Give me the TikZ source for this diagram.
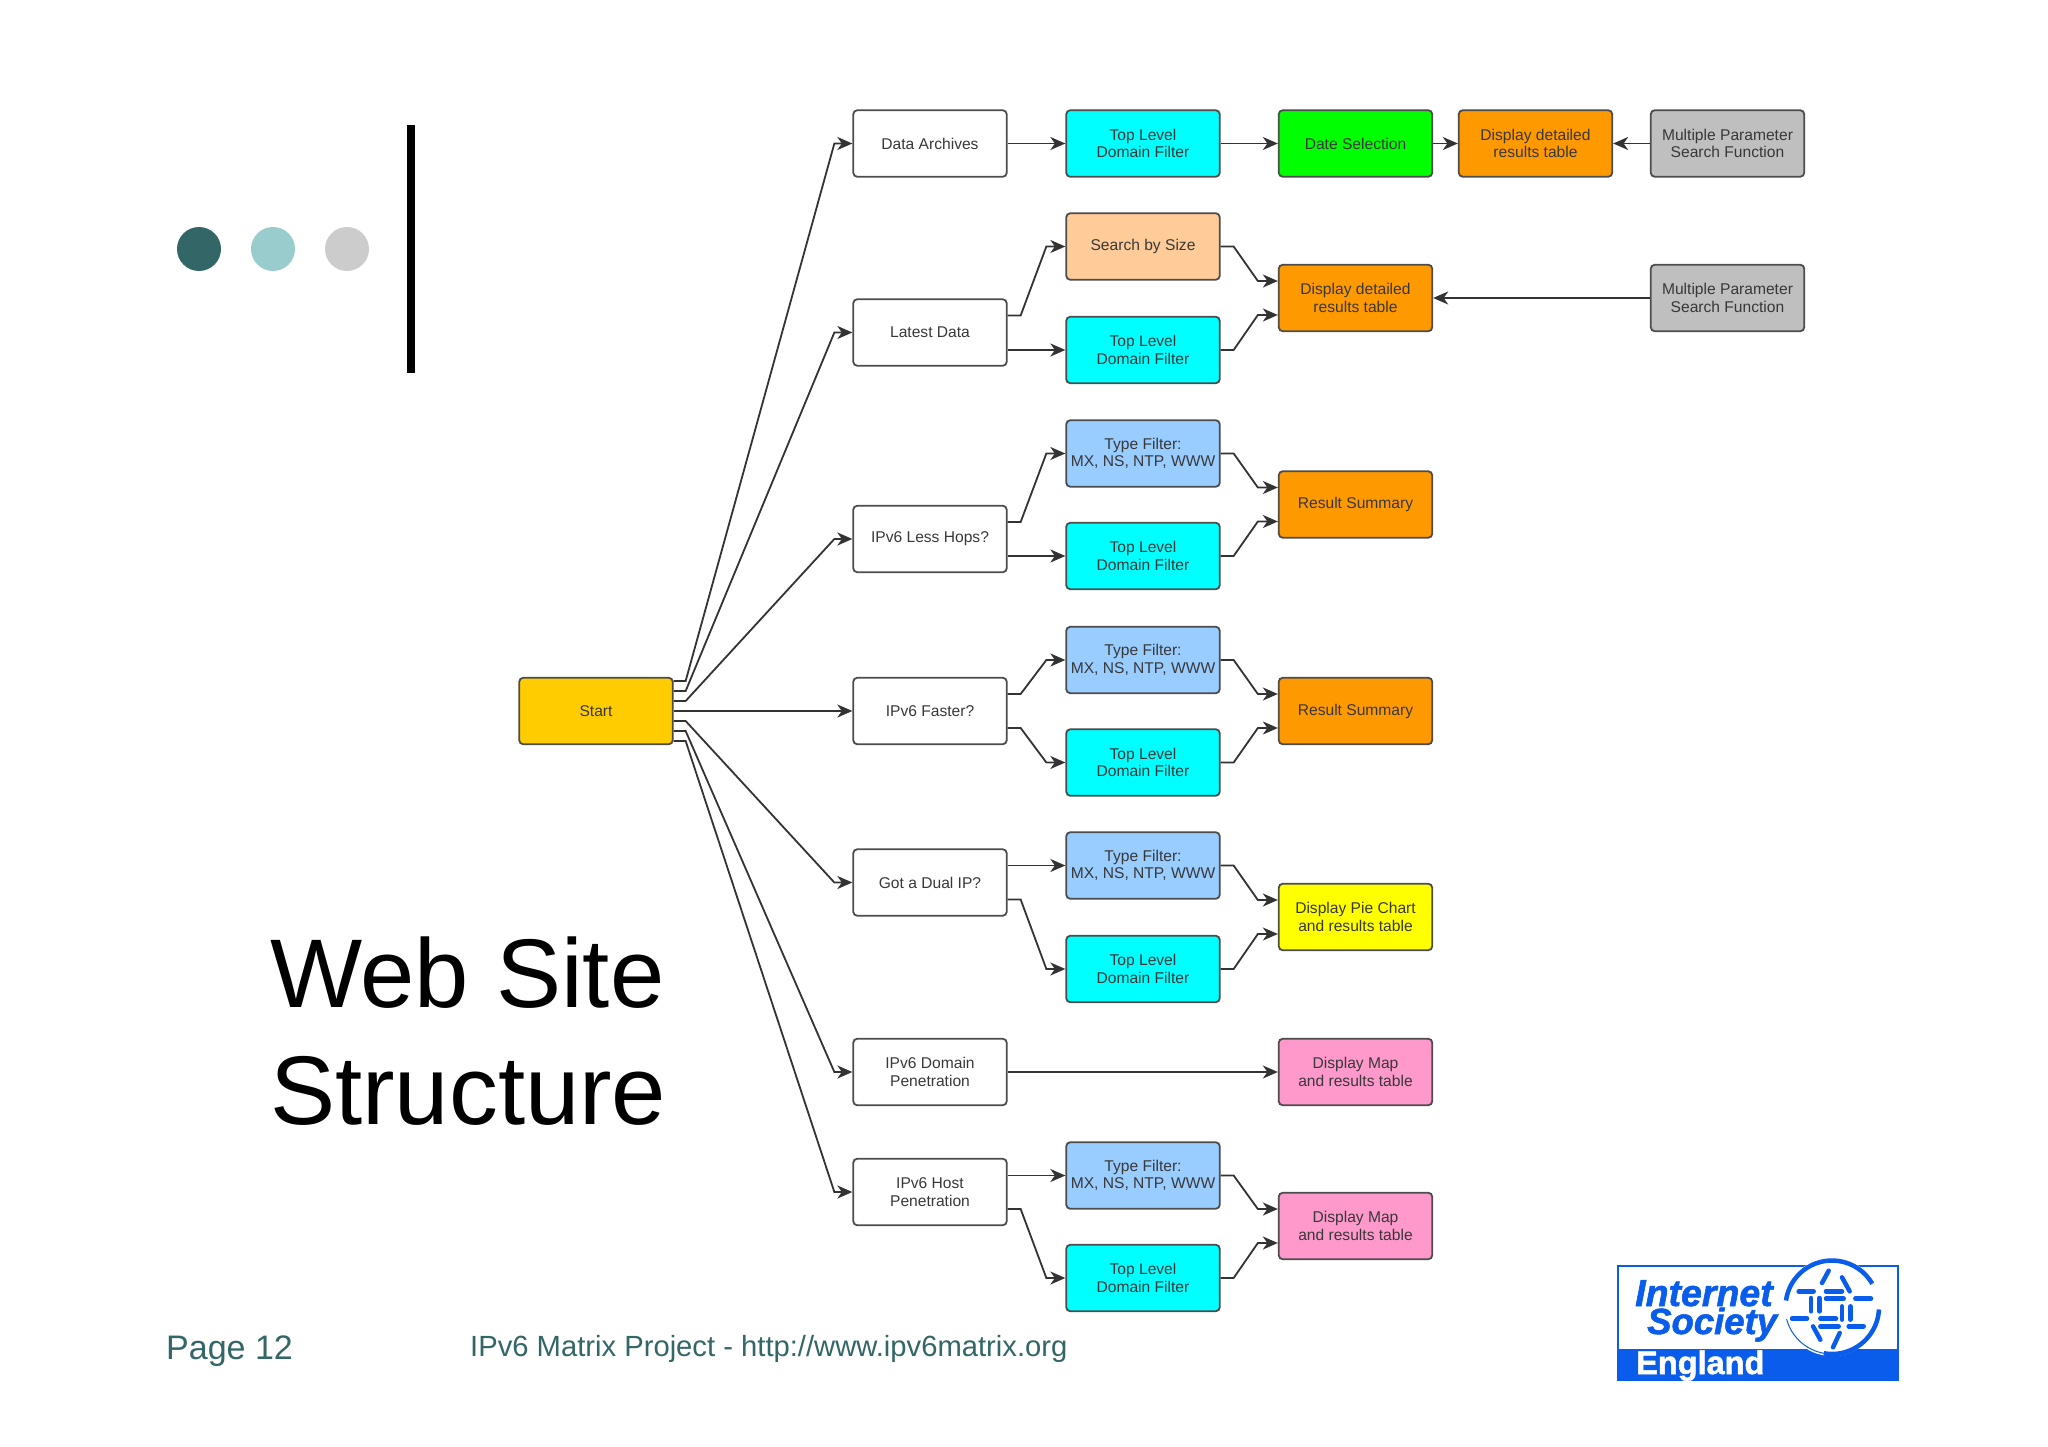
\documentclass[tikz,border=0pt]{standalone}
\usepackage{fontspec}
\setmainfont{Liberation Sans}
\newfontfamily\logofont[UprightFont=* Bold Italic, FakeBold=1.5]{Liberation Sans}
\newfontfamily\englandfont[UprightFont=* Bold, FakeBold=1.5]{Liberation Sans}
\usetikzlibrary{arrows.meta}

\definecolor{slideteal}{HTML}{336666}
\definecolor{slideaqua}{HTML}{99CCCC}
\definecolor{slidegrey}{HTML}{CCCCCC}
\definecolor{logoblue}{HTML}{0A5CEB}
\definecolor{startcol}{HTML}{FFCC00}
\definecolor{peachcol}{HTML}{FFCC99}
\definecolor{orangecol}{HTML}{FF9900}
\definecolor{greycol}{HTML}{BFBFBF}
\definecolor{pinkcol}{HTML}{FF99CC}
\definecolor{typecol}{HTML}{99CCFF}
\definecolor{tldcol}{HTML}{00FFFF}
\definecolor{datecol}{HTML}{00FF00}
\definecolor{piecol}{HTML}{FFFF00}

\tikzset{
  box/.style={draw=black!70, line width=1.8pt, rounded corners=4pt, inner sep=1pt,
    minimum width=153.5pt, minimum height=66.5pt, align=center, text=black!78,
    font=\fontsize{15.6}{17.6}\selectfont},
  link/.style={draw=black!80, line width=1.8pt,
    -{Stealth[length=15pt,width=13pt,inset=4.5pt]}},
  logodash/.style={logoblue, line width=4.5pt, line cap=round},
}

\begin{document}
\begin{tikzpicture}[x=1pt, y=-1pt]
  \useasboundingbox (0,0) rectangle (2048,1447);

  % Slide furniture
  \foreach \cx/\col in {199/slideteal, 273/slideaqua, 347/slidegrey}
    \fill[\col] (\cx,249) circle[radius=22pt];
  \fill[black] (407,125) rectangle (415,373);

  \node[anchor=base west, inner sep=0pt, font=\fontsize{97.6}{116}\selectfont] (Title1) at (270,1007) {Web Site};
  \node[anchor=base west, inner sep=0pt, font=\fontsize{97.6}{116}\selectfont] (Title2) at (270,1124) {Structure};
  \node[anchor=base west, inner sep=0pt, text=slideteal, font=\fontsize{34}{36}\selectfont] (PageNo) at (166,1359) {Page 12};
  \node[anchor=base west, inner sep=0pt, text=slideteal, font=\fontsize{29.2}{32}\selectfont] (Footer) at (470,1356) {IPv6 Matrix Project - http://www.ipv6matrix.org};

  % Start and first column
  \node[box, fill=startcol] (Start) at (596,711) {Start};
  \node[box] (Archive) at (930,143.5) {Data Archives};
  \node[box] (Latest) at (930,332.5) {Latest Data};
  \node[box] (LessHops) at (930,539) {IPv6 Less Hops?};
  \node[box] (Faster) at (930,711) {IPv6 Faster?};
  \node[box] (DualIP) at (930,882.5) {Got a Dual IP?};
  \node[box] (DomainPen) at (930,1072) {IPv6 Domain\\Penetration};
  \node[box] (HostPen) at (930,1192) {IPv6 Host\\Penetration};

  % Filters
  \node[box, fill=tldcol] (ArchiveTld) at (1143,143.5) {Top Level\\Domain Filter};
  \node[box, fill=peachcol] (SizeSearch) at (1143,246.5) {Search by Size};
  \node[box, fill=tldcol] (LatestTld) at (1143,350) {Top Level\\Domain Filter};
  \node[box, fill=typecol] (HopsType) at (1143,453.5) {Type Filter:\\MX, NS, NTP, WWW};
  \node[box, fill=tldcol] (HopsTld) at (1143,556) {Top Level\\Domain Filter};
  \node[box, fill=typecol] (FastType) at (1143,660) {Type Filter:\\MX, NS, NTP, WWW};
  \node[box, fill=tldcol] (FastTld) at (1143,762.5) {Top Level\\Domain Filter};
  \node[box, fill=typecol] (DualType) at (1143,865.5) {Type Filter:\\MX, NS, NTP, WWW};
  \node[box, fill=tldcol] (DualTld) at (1143,969) {Top Level\\Domain Filter};
  \node[box, fill=typecol] (HostType) at (1143,1175.5) {Type Filter:\\MX, NS, NTP, WWW};
  \node[box, fill=tldcol] (HostTld) at (1143,1278) {Top Level\\Domain Filter};

  % Results
  \node[box, fill=datecol] (DateSel) at (1355.5,143.5) {Date Selection};
  \node[box, fill=orangecol] (LatestTable) at (1355.5,298) {Display detailed\\results table};
  \node[box, fill=orangecol] (HopsSummary) at (1355.5,504.5) {Result Summary};
  \node[box, fill=orangecol] (FastSummary) at (1355.5,711) {Result Summary};
  \node[box, fill=piecol] (PieTable) at (1355.5,917) {Display Pie Chart\\and results table};
  \node[box, fill=pinkcol] (DomainMap) at (1355.5,1072) {Display Map\\and results table};
  \node[box, fill=pinkcol] (HostMap) at (1355.5,1226) {Display Map\\and results table};
  \node[box, fill=orangecol] (ArchiveTable) at (1535.5,143.5) {Display detailed\\results table};
  \node[box, fill=greycol] (ArchiveSearch) at (1727.5,143.5) {Multiple Parameter\\Search Function};
  \node[box, fill=greycol] (LatestSearch) at (1727.5,298) {Multiple Parameter\\Search Function};

  % Fan out of Start
  \foreach \dy/\dst in {30/Archive, 20/Latest, 10/LessHops, -10/DualIP, -20/DomainPen, -30/HostPen}
    \draw[link] ([yshift=\dy pt]Start.east) -- ++(12,0) -- ([xshift=-18pt]\dst.west) -- (\dst.west);
  \draw[link] (Start) -- (Faster);

  % Elbows into the filters
  \foreach \src/\dy/\dst in {Latest/17/SizeSearch, LessHops/17/HopsType, Faster/17/FastType,
      Faster/-17/FastTld, DualIP/-17/DualTld, HostPen/-17/HostTld}
    \draw[link] ([yshift=\dy pt]\src.east) -- ++(13,0) -- ([xshift=-19pt]\dst.west) -- (\dst.west);

  % Elbows into the results
  \foreach \src/\dst/\dy in {SizeSearch/LatestTable/17, LatestTld/LatestTable/-17,
      HopsType/HopsSummary/17, HopsTld/HopsSummary/-17,
      FastType/FastSummary/17, FastTld/FastSummary/-17,
      DualType/PieTable/17, DualTld/PieTable/-17,
      HostType/HostMap/17, HostTld/HostMap/-17}
    \draw[link] (\src.east) -- ++(13,0) -- ([xshift=-20pt, yshift=\dy pt]\dst.west) -- ([yshift=\dy pt]\dst.west);

  % Straight links
  \draw[link] (Archive) -- (ArchiveTld);
  \draw[link] (ArchiveTld) -- (DateSel);
  \draw[link] (DateSel) -- (ArchiveTable);
  \draw[link] (ArchiveSearch) -- (ArchiveTable);
  \draw[link] (LatestSearch) -- (LatestTable);
  \draw[link] (DomainPen) -- (DomainMap);
  \draw[link] (Latest.east |- LatestTld.west) -- (LatestTld.west);
  \draw[link] (LessHops.east |- HopsTld.west) -- (HopsTld.west);
  \draw[link] (DualIP.east |- DualType.west) -- (DualType.west);
  \draw[link] (HostPen.east |- HostType.west) -- (HostType.west);

  % Logo
  \fill[logoblue] (1617,1349) rectangle (1899,1381);
  \draw[logoblue, line width=2.5pt] (1618,1266) rectangle (1898,1380);
  \fill[white] (1832,1307) circle[radius=49pt];
  \draw[logoblue, line width=4.5pt] (1832,1307) ++(172:46.5pt) arc[start angle=172, end angle=30, radius=46.5pt];
  \draw[logoblue, line width=4.5pt] (1832,1307) ++(-3:47pt) arc[start angle=-3, end angle=-100, radius=47pt];
  \draw[logoblue, line width=1pt] (1832,1307) ++(-100:47pt) arc[start angle=-100, end angle=-165, radius=47pt];
  \begin{scope}[shift={(1832,1307)}, x=0.3333pt, y=-0.3333pt]
    \foreach \ax/\ay/\bx/\by in {-100/-47/-55/-47, -18/-47/30/-47, -18/-25/35/-25, 70/-25/117/-25,
        -120/35/-75/35, -35/35/12/35, -35/58/20/58, 50/58/95/58,
        -63/-27/-63/13, -38/-27/-38/13, 30/-2/30/38, 55/-2/55/38,
        -10/-109/-30/-72, 30/-89/53/-47, -57/58/-35/98, 23/78/3/121}
      \draw[logodash] (\ax,\ay) -- (\bx,\by);
  \end{scope}
  \node[anchor=base west, inner sep=0pt, text=logoblue, font=\logofont\fontsize{37.5}{40}\selectfont] (LogoA) at (1635,1306) {Internet};
  \node[anchor=base west, inner sep=0pt, text=logoblue, font=\logofont\fontsize{36.5}{40}\selectfont] (LogoB) at (1647,1334) {Society};
  \node[anchor=base west, inner sep=0pt, text=white, font=\englandfont\fontsize{32.5}{34}\selectfont] (LogoC) at (1636,1374) {England};
\end{tikzpicture}
\end{document}
